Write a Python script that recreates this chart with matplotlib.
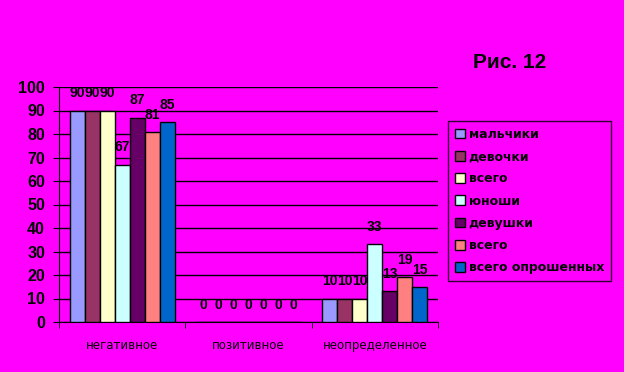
import matplotlib
matplotlib.use("Agg")
import matplotlib.pyplot as plt
import numpy as np

plt.rcParams["font.family"] = ["Liberation Sans", "DejaVu Sans"]

categories = ["негативное", "позитивное", "неопределенное"]
series_names = ["мальчики", "девочки", "всего", "юноши", "девушки", "всего", "всего опрошенных"]
values = [
    [90, 0, 10],
    [90, 0, 10],
    [90, 0, 10],
    [67, 0, 33],
    [87, 0, 13],
    [81, 0, 19],
    [85, 0, 15],
]
colors = ["#9999FF", "#993366", "#FFFFCC", "#CCFFFF", "#660066", "#FF8080", "#0066CC"]
yticks = list(range(0, 101, 10))

BG = "#FF00FF"
fig = plt.figure(figsize=(6.24, 3.72), dpi=100, facecolor=BG)
ax = fig.add_axes([59/624, 1-322/372, (438-59)/624, (322-87)/372], facecolor=BG)

n = len(series_names)
bw = 0.83 / n
x = np.arange(len(categories))
handles = []
for i, (name, vals, c) in enumerate(zip(series_names, values, colors)):
    pos = x - 0.83/2 + bw*(i+0.5)
    b = ax.bar(pos, vals, width=bw, color=c, edgecolor="black", linewidth=1, label=name, zorder=3)
    handles.append(b)
    for p, v in zip(pos, vals):
        ax.text(p, v + 4.3, str(v), ha="center", va="bottom", fontsize=10,
                fontweight="bold", color="black", zorder=4)

ax.set_xlim(-0.5, len(categories) - 0.5)
ax.set_ylim(0, 100)
ax.set_yticks(yticks)
ax.set_yticklabels([str(t) for t in yticks], fontsize=11.5, fontweight="bold")
ax.yaxis.grid(True, color="black", linewidth=1, zorder=0)
ax.set_axisbelow(True)
ax.set_xticks(x)
ax.set_xticklabels(categories, fontsize=8.5, family=["DejaVu Sans"])
ax.tick_params(axis="x", length=0, pad=12)
ax.set_xticks(np.arange(-0.5, len(categories)), minor=True)
ax.tick_params(axis="x", which="minor", length=4, color="black", direction="out")
ax.tick_params(axis="y", length=4, color="black", direction="out", pad=6)
for s in ["top", "right"]:
    ax.spines[s].set_visible(False)
ax.spines["left"].set_color("black")
ax.spines["bottom"].set_color("black")

leg = fig.legend(handles=handles, labels=series_names, loc="upper left",
                 bbox_to_anchor=(448/624, 1-121/372), frameon=True, fancybox=False,
                 facecolor=BG, edgecolor="black",
                 prop={"family": "DejaVu Sans", "weight": "bold", "size": 9},
                 handlelength=0.8, handleheight=0.8, handletextpad=0.3,
                 labelspacing=0.74, borderpad=0.55, borderaxespad=0)
leg.get_frame().set_linewidth(1)

fig.text(510/624, 1-63/372, "Рис. 12", fontsize=15, fontweight="bold", ha="center", va="center")

fig.savefig("out.png", dpi=100, facecolor=BG)
